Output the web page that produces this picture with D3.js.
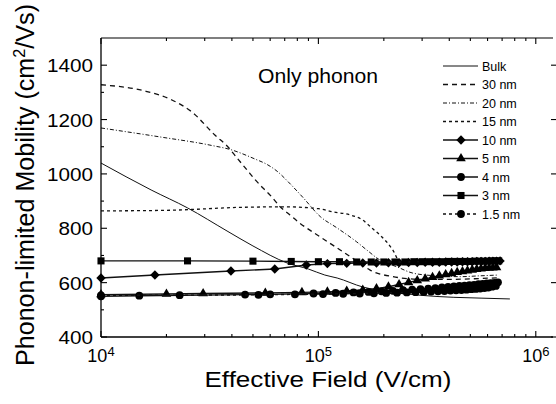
<!DOCTYPE html>
<html>
<head>
<meta charset="utf-8">
<script src="https://cdn.jsdelivr.net/npm/d3@7"></script>
<style>
  body { margin: 0; background: #fff; }
  svg { display: block; font-family: "Liberation Sans", Arial, Helvetica, sans-serif; }
</style>
</head>
<body>
<div id="myViz"></div>
<script>
// Datos: campo efectivo (V/cm) y movilidad (cm2/Vs)
const fieldBulk = [1e4, 1.7e4, 2.5e4, 3.8e4, 5e4, 7.2e4, 9e4, 1.07e5, 1.22e5, 1.6e5, 2.2e5, 3e5, 4.2e5, 5.6e5, 7.6e5];
const muBulk    = [1040, 941, 875, 790, 735, 672, 650, 628, 617, 584, 565, 553, 546, 543, 540];

const field30 = [1e4, 1.59e4, 2.12e4, 2.62e4, 3.34e4, 3.84e4, 4.22e4, 4.69e4, 5.1e4, 5.56e4, 6.11e4, 6.65e4, 7.4e4, 8.2e4, 9.1e4, 1.02e5, 1.26e5, 1.5e5, 1.73e5, 2.2e5, 3e5, 4e5, 5.5e5, 6.75e5];
const mu30    = [1328, 1305, 1272, 1228, 1143, 1099, 1059, 1015, 980, 948, 915, 880, 849, 819, 794, 768, 720, 680, 646, 622, 612, 612, 615, 618];

const field20 = [1e4, 1.87e4, 3.17e4, 4e4, 5.1e4, 5.8e4, 6.5e4, 7.24e4, 8.5e4, 1.02e5, 1.22e5, 1.5e5, 1.67e5, 1.92e5, 2.3e5, 2.72e5, 3.5e5, 4.5e5, 5.5e5, 6.75e5];
const mu20    = [1169, 1136, 1106, 1088, 1055, 1035, 1008, 972, 913, 843, 801, 750, 720, 683, 658, 635, 625, 622, 625, 628];

const field15 = [1e4, 2e4, 4.4e4, 7e4, 1e5, 1.17e5, 1.4e5, 1.6e5, 1.76e5, 1.92e5, 2.2e5, 2.37e5, 2.6e5, 3.5e5, 5e5, 6.75e5];
const mu15    = [864, 866, 877, 879, 872, 860, 849, 830, 801, 775, 720, 676, 668, 668, 670, 672];

const field10 = [1e4, 1.77e4, 3.96e4, 6.3e4, 8.8e4, 1.1e5, 1.35e5, 1.6e5, 1.85e5, 2.1e5, 2.35e5, 2.6e5, 2.85e5, 3.1e5, 3.35e5, 3.6e5, 3.85e5, 4.1e5, 4.35e5, 4.6e5, 4.85e5, 5.1e5, 5.35e5, 5.6e5, 5.85e5, 6.1e5, 6.35e5, 6.6e5, 6.85e5];
const mu10    = [617, 628, 643, 650, 665, 670, 671, 672, 672, 673, 673, 674, 674, 675, 675, 675, 676, 676, 676, 677, 677, 677, 678, 678, 678, 679, 679, 679, 680];

const field5 = [1e4, 2e4, 2.95e4, 5.7e4, 8.4e4, 1.1e5, 1.35e5, 1.6e5, 1.85e5, 2.1e5, 2.35e5, 2.6e5, 2.85e5, 3.1e5, 3.35e5, 3.6e5, 3.85e5, 4.1e5, 4.35e5, 4.6e5, 4.85e5, 5.1e5, 5.35e5, 5.6e5, 5.85e5, 6.1e5, 6.35e5, 6.6e5];
const mu5    = [556, 558, 560, 562, 564, 566, 569, 573, 578, 585, 593, 601, 608, 614, 620, 625, 630, 634, 638, 641, 644, 647, 649, 651, 653, 654, 655, 656];

const field4 = [1e4, 1.5e4, 4.6e4, 6e4, 9.5e4, 1.2e5, 1.45e5, 1.7e5, 1.95e5, 2.2e5, 2.45e5, 2.7e5, 2.95e5, 3.2e5, 3.45e5, 3.7e5, 3.95e5, 4.2e5, 4.45e5, 4.7e5, 4.95e5, 5.2e5, 5.45e5, 5.7e5, 5.95e5, 6.2e5, 6.45e5, 6.7e5];
const mu4    = [550, 552, 556, 557, 560, 562, 564, 566, 568, 570, 572, 574, 576, 578, 580, 582, 584, 586, 588, 589, 591, 592, 594, 595, 597, 598, 599, 601];

const field3 = [1e4, 2.5e4, 5e4, 7.5e4, 1e5, 1.25e5, 1.5e5, 1.75e5, 2e5, 2.25e5, 2.5e5, 2.75e5, 3e5, 3.25e5, 3.5e5, 3.75e5, 4e5, 4.25e5, 4.5e5, 4.75e5, 5e5, 5.25e5, 5.5e5, 5.75e5, 6e5, 6.25e5, 6.5e5, 6.75e5];
const mu3    = [680, 680, 679, 678, 677, 677, 676, 676, 676, 676, 676, 677, 677, 677, 677, 677, 678, 678, 678, 678, 678, 679, 679, 679, 679, 680, 680, 680];

const field1p5 = [1e4, 2.3e4, 5.3e4, 7.8e4, 1.05e5, 1.3e5, 1.55e5, 1.8e5, 2.05e5, 2.3e5, 2.55e5, 2.8e5, 3.05e5, 3.3e5, 3.55e5, 3.8e5, 4.05e5, 4.3e5, 4.55e5, 4.8e5, 5.05e5, 5.3e5, 5.55e5, 5.8e5, 6.05e5, 6.3e5, 6.55e5];
const mu1p5    = [553, 554, 555, 557, 558, 559, 560, 561, 562, 563, 564, 565, 566, 567, 568, 569, 571, 572, 573, 574, 576, 577, 578, 580, 582, 585, 588];

// Ejes
const yMajor = [400, 600, 800, 1000, 1200, 1400];
const yMinor = [500, 700, 900, 1100, 1300];
const xMajor = [1e4, 1e5, 1e6];
const xMajorExp = ['4', '5', '6'];
const xMinor = [2e4, 3e4, 4e4, 5e4, 6e4, 7e4, 8e4, 9e4, 2e5, 3e5, 4e5, 5e5, 6e5, 7e5, 8e5, 9e5];

// Series (estilos aparte de los datos)
const series = [
  { label: 'Bulk',   field: fieldBulk, mu: muBulk, dash: null,       sw: 1,   smooth: true,  marker: null },
  { label: '30 nm',  field: field30,   mu: mu30,   dash: '5,4',      sw: 1.3, smooth: true,  marker: null },
  { label: '20 nm',  field: field20,   mu: mu20,   dash: '4,2,1,2',  sw: 1,   smooth: true,  marker: null },
  { label: '15 nm',  field: field15,   mu: mu15,   dash: '3,3',      sw: 1.3, smooth: true,  marker: null },
  { label: '10 nm',  field: field10,   mu: mu10,   dash: null,       sw: 1.4, smooth: false, marker: 'diamond' },
  { label: '5 nm',   field: field5,    mu: mu5,    dash: null,       sw: 1.4, smooth: false, marker: 'triangle' },
  { label: '4 nm',   field: field4,    mu: mu4,    dash: null,       sw: 1.4, smooth: false, marker: 'circle' },
  { label: '3 nm',   field: field3,    mu: mu3,    dash: null,       sw: 1.4, smooth: false, marker: 'square' },
  { label: '1.5 nm', field: field1p5,  mu: mu1p5,  dash: '3,3',      sw: 1.4, smooth: false, marker: 'circle' }
];

const width = 556, height = 404;
const x = d3.scaleLog().domain([1e4, 1.2e6]).range([101, 553]);
const y = d3.scaleLinear().domain([400, 1500]).range([337, 38]);

const svg = d3.select('#myViz').append('svg')
  .attr('width', width)
  .attr('height', height);

// Simbolos de los marcadores
const markerPath = (type) => {
  if (type === 'diamond') return { d: d3.symbol().type(d3.symbolSquare).size(44)(), rot: 45 };
  if (type === 'triangle') return { d: d3.symbol().type(d3.symbolTriangle).size(40)(), rot: 0 };
  if (type === 'square') return { d: d3.symbol().type(d3.symbolSquare).size(50)(), rot: 0 };
  return { d: d3.symbol().type(d3.symbolCircle).size(48)(), rot: 0 };
};

// Curvas
const plot = svg.append('g').attr('class', 'curves');
series.forEach(s => {
  const pts = s.field.map((f, i) => [f, s.mu[i]]);
  const line = d3.line()
    .x(d => x(d[0]))
    .y(d => y(d[1]))
    .curve(s.smooth ? d3.curveMonotoneX : d3.curveLinear);
  plot.append('path')
    .datum(pts)
    .attr('d', line)
    .attr('fill', 'none')
    .attr('stroke', '#111')
    .attr('stroke-width', s.sw)
    .attr('stroke-dasharray', s.dash);
  if (s.marker) {
    const m = markerPath(s.marker);
    plot.append('g').selectAll('path')
      .data(pts)
      .enter().append('path')
      .attr('d', m.d)
      .attr('transform', d => `translate(${x(d[0])},${y(d[1])}) rotate(${m.rot})`)
      .attr('fill', '#000');
  }
});

// Marco y ticks hacia dentro
const frame = svg.append('g').attr('class', 'frame');
frame.append('line').attr('x1', 101).attr('x2', 101).attr('y1', 38).attr('y2', 337).attr('stroke', '#000').attr('stroke-width', 1.3);
frame.append('line').attr('x1', 101).attr('x2', 553).attr('y1', 337).attr('y2', 337).attr('stroke', '#000').attr('stroke-width', 1.3);
frame.append('line').attr('x1', 101).attr('x2', 553).attr('y1', 38).attr('y2', 38).attr('stroke', '#000').attr('stroke-width', 1.1);

const tick = (x1, y1, x2, y2) => frame.append('line')
  .attr('x1', x1).attr('y1', y1).attr('x2', x2).attr('y2', y2)
  .attr('stroke', '#000').attr('stroke-width', 1.1);

xMajor.forEach(v => { tick(x(v), 337, x(v), 331); tick(x(v), 38, x(v), 44); });
xMinor.forEach(v => { tick(x(v), 337, x(v), 334); tick(x(v), 38, x(v), 41); });
yMajor.forEach(v => { tick(101, y(v), 107, y(v)); tick(556, y(v), 551, y(v)); });
yMinor.forEach(v => { tick(101, y(v), 104, y(v)); });

// Etiquetas de los ticks
const labels = svg.append('g').attr('class', 'labels').attr('fill', '#000');
yMajor.forEach(v => {
  labels.append('text')
    .attr('x', 93).attr('y', y(v) + 7)
    .attr('text-anchor', 'end')
    .attr('font-size', '19px')
    .attr('textLength', String(v).length * 11.5)
    .attr('lengthAdjust', 'spacingAndGlyphs')
    .text(v);
});
xMajor.forEach((v, i) => {
  const t = labels.append('text')
    .attr('x', x(v)).attr('y', 362)
    .attr('text-anchor', 'middle')
    .attr('font-size', '18px');
  t.append('tspan').text('10');
  t.append('tspan').attr('dy', -6).attr('font-size', '13px').text(xMajorExp[i]);
});

// Titulos de los ejes
labels.append('text')
  .attr('x', 328).attr('y', 387)
  .attr('text-anchor', 'middle')
  .attr('font-size', '22px')
  .attr('textLength', 247)
  .attr('lengthAdjust', 'spacingAndGlyphs')
  .text('Effective Field (V/cm)');

const yTitle = labels.append('text')
  .attr('transform', 'translate(34,366) scale(1.15,1) rotate(-90)')
  .attr('x', 0).attr('y', 0)
  .attr('font-size', '23px')
  .attr('textLength', 362)
  .attr('lengthAdjust', 'spacingAndGlyphs');
yTitle.append('tspan').text('Phonon-limited Mobility (cm');
yTitle.append('tspan').attr('dy', -8).attr('font-size', '15px').text('2');
yTitle.append('tspan').attr('dy', 8).text('/Vs)');

labels.append('text')
  .attr('x', 258).attr('y', 83)
  .attr('font-size', '20px')
  .attr('textLength', 120)
  .attr('lengthAdjust', 'spacingAndGlyphs')
  .text('Only phonon');

// Leyenda
const legend = svg.append('g').attr('class', 'legend');
series.forEach((s, i) => {
  const ly = 66 + i * 18.5;
  legend.append('line')
    .attr('x1', 443).attr('x2', 478).attr('y1', ly).attr('y2', ly)
    .attr('stroke', '#111')
    .attr('stroke-width', s.sw)
    .attr('stroke-dasharray', s.dash);
  if (s.marker) {
    const m = markerPath(s.marker);
    legend.append('path')
      .attr('d', m.d)
      .attr('transform', `translate(461,${ly}) rotate(${m.rot})`)
      .attr('fill', '#000');
  }
  legend.append('text')
    .attr('x', 482).attr('y', ly + 4.5)
    .attr('font-size', '12.5px')
    .text(s.label);
});
</script>
</body>
</html>
